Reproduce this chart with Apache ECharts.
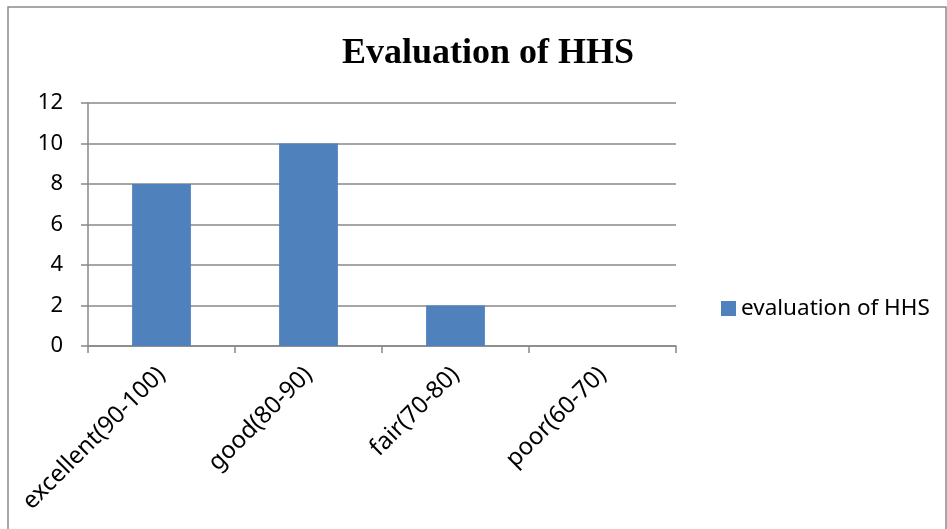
<!DOCTYPE html>
<html>
<head>
<meta charset="utf-8">
<script src="https://cdn.jsdelivr.net/npm/echarts@6/dist/echarts.min.js"></script>
<style>
  html, body { margin: 0; padding: 0; background: #fff; }
  #chart { width: 947px; height: 529px; }
</style>
</head>
<body>
<div id="chart"></div>
<script>
// 图表数据
const categories = ['excellent(90-100)', 'good(80-90)', 'fair(70-80)', 'poor(60-70)']
const counts = [8, 10, 2, 0]
const seriesName = 'evaluation of HHS'
const titleText = 'Evaluation of HHS'

const chart = echarts.init(document.getElementById('chart'))
chart.setOption({
  animation: false,
  title: {
    text: titleText,
    left: 483,
    textAlign: 'center',
    top: 31,
    textStyle: {
      fontFamily: 'Liberation Serif',
      fontWeight: 'bold',
      fontSize: 36,
      color: '#000'
    }
  },
  legend: {
    data: [seriesName],
    left: 716,
    top: 292,
    itemWidth: 15,
    itemHeight: 15,
    itemGap: 7,
    icon: 'rect',
    textStyle: {
      fontFamily: 'Noto Sans',
      fontSize: 22.5,
      color: '#000'
    }
  },
  grid: {
    left: 88,
    right: 271,
    top: 103,
    bottom: 183
  },
  xAxis: {
    type: 'category',
    data: categories,
    axisLine: { lineStyle: { color: '#888', width: 1.5 } },
    axisTick: { show: true, length: 7, lineStyle: { color: '#888', width: 1.5 } },
    axisLabel: {
      rotate: 45,
      interval: 0,
      margin: 25,
      fontFamily: 'Noto Sans',
      fontSize: 24,
      color: '#000'
    }
  },
  yAxis: {
    type: 'value',
    min: 0,
    max: 12,
    interval: 2,
    axisLine: { show: true, lineStyle: { color: '#888', width: 1.5 } },
    axisTick: { show: true, length: 7, lineStyle: { color: '#888', width: 1.5 } },
    splitLine: { lineStyle: { color: '#888', width: 1.5 } },
    axisLabel: {
      margin: 25,
      fontFamily: 'Noto Sans',
      fontSize: 22,
      color: '#000'
    }
  },
  graphic: [
    {
      type: 'rect',
      shape: { x: 8, y: 7, width: 938, height: 540 },
      style: { fill: null, stroke: '#8a8a8a', lineWidth: 1.5 },
      silent: true
    }
  ],
  series: [
    {
      name: seriesName,
      type: 'bar',
      data: counts,
      barWidth: '40%',
      itemStyle: { color: '#4f81bd' }
    }
  ]
})
</script>
</body>
</html>
